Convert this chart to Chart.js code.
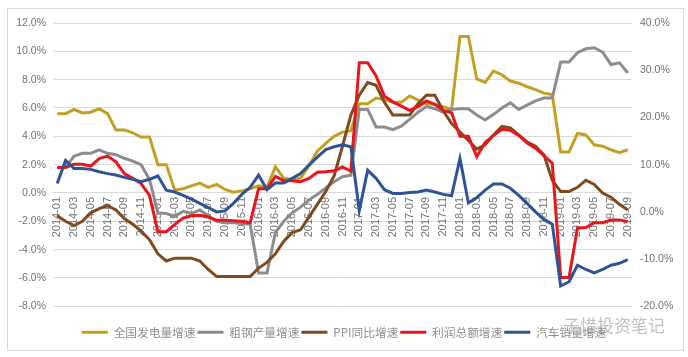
<!DOCTYPE html>
<html><head><meta charset="utf-8">
<script src="https://cdn.jsdelivr.net/npm/chart.js@4/dist/chart.umd.min.js"></script>
<style>
html,body{margin:0;padding:0;background:#fff;}
#wrap{position:relative;width:688px;height:357px;overflow:hidden;}
#frame{position:absolute;left:7px;top:8px;width:677px;height:343px;border:1px solid #d9d9d9;box-sizing:border-box;pointer-events:none;}
#wm{position:absolute;left:563px;top:315px;font-family:"Noto Sans CJK SC";font-size:17px;line-height:20px;color:rgba(130,130,130,0.5);white-space:nowrap;pointer-events:none;}
canvas{position:absolute;left:0;top:0;}
</style></head>
<body>
<div id="wrap">
<canvas id="c" width="688" height="357"></canvas>
<div id="frame"></div>
<div id="wm">子惜投资笔记</div>
</div>
<script>
const months = [
"2014-01","2014-02","2014-03","2014-04","2014-05","2014-06","2014-07","2014-08","2014-09","2014-10","2014-11","2014-12",
"2015-01","2015-02","2015-03","2015-04","2015-05","2015-06","2015-07","2015-08","2015-09","2015-10","2015-11","2015-12",
"2016-01","2016-02","2016-03","2016-04","2016-05","2016-06","2016-07","2016-08","2016-09","2016-10","2016-11","2016-12",
"2017-01","2017-02","2017-03","2017-04","2017-05","2017-06","2017-07","2017-08","2017-09","2017-10","2017-11","2017-12",
"2018-01","2018-02","2018-03","2018-04","2018-05","2018-06","2018-07","2018-08","2018-09","2018-10","2018-11","2018-12",
"2019-01","2019-02","2019-03","2019-04","2019-05","2019-06","2019-07","2019-08","2019-09"];

// 全国发电量增速 (left axis, %)
const powerGrowth = [5.6,5.6,5.9,5.65,5.7,5.95,5.6,4.45,4.45,4.25,3.95,3.95,
 2.0,2.0,0.2,0.3,0.5,0.7,0.4,0.6,0.25,0.05,0.15,0.3,
 0.5,0.4,1.85,1.05,0.95,1.05,1.9,2.95,3.5,4.0,4.3,4.4,
 6.3,6.3,6.7,6.6,6.4,6.4,6.85,6.55,6.3,6.25,6.1,5.9,
 11.05,11.05,8.05,7.8,8.6,8.35,7.9,7.75,7.5,7.3,7.05,6.95,
 2.9,2.9,4.2,4.1,3.4,3.3,3.05,2.85,3.05];
// 粗钢产量增速 (left axis, %)
const steelGrowth = [1.8,1.8,2.6,2.8,2.8,3.05,2.8,2.7,2.45,2.25,2.0,0.95,
 -1.4,-1.45,-1.65,-1.3,-1.45,-1.2,-1.6,-2.0,-2.1,-2.1,-2.15,-2.2,
 -5.65,-5.65,-2.8,-2.0,-1.4,-1.0,-0.5,-0.1,0.35,0.8,1.15,1.25,
 5.9,5.9,4.66,4.66,4.47,4.72,5.2,5.7,6.1,5.95,5.7,5.9,
 5.94,5.94,5.5,5.15,5.55,6.0,6.36,5.9,6.2,6.5,6.7,6.7,
 9.24,9.24,9.9,10.18,10.25,9.94,9.07,9.19,8.48];
// PPI同比增速 (left axis, %)
const ppiGrowth = [-1.6,-2.0,-2.3,-2.0,-1.4,-1.1,-0.9,-1.2,-1.8,-2.2,-2.7,-3.3,
 -4.3,-4.8,-4.6,-4.6,-4.6,-4.8,-5.4,-5.9,-5.9,-5.9,-5.9,-5.9,
 -5.3,-4.9,-4.3,-3.4,-2.8,-2.6,-1.7,-0.8,0.1,1.2,3.3,5.5,
 6.9,7.8,7.6,6.4,5.5,5.5,5.5,6.3,6.9,6.9,5.8,4.9,
 4.3,3.7,3.1,3.4,4.1,4.7,4.6,4.1,3.6,3.3,2.7,0.9,
 0.1,0.1,0.4,0.9,0.6,0.0,-0.3,-0.8,-1.2];
// 利润总额增速 (right axis, %)
const profitGrowth = [9.4,9.4,10.1,10.1,9.7,11.3,11.8,10.6,8.1,7.1,6.0,3.5,
 -4.2,-4.2,-2.7,-1.3,-0.8,-0.7,-1.1,-1.8,-1.8,-1.9,-2.0,-2.3,
 4.9,4.9,7.5,6.6,6.6,6.4,7.1,8.4,8.5,8.7,9.5,8.6,
 31.6,31.6,28.8,24.5,23.3,22.4,21.5,22.3,23.5,22.8,21.5,21.0,
 16.0,16.0,11.7,14.7,16.2,17.5,17.3,16.2,14.6,13.5,11.9,10.3,
 -13.9,-13.9,-3.4,-3.3,-2.3,-2.3,-1.7,-1.7,-2.1];
// 汽车销量增速 (right axis, %)
const autoGrowth = [6.0,10.9,9.2,9.2,9.0,8.5,8.1,7.8,7.3,6.9,6.4,6.9,
 7.6,4.6,4.2,3.5,2.7,1.8,0.9,0.0,0.2,1.8,3.7,5.2,
 7.8,4.7,6.1,6.1,7.1,8.1,9.9,11.6,13.2,13.8,14.2,13.8,
 0.3,8.8,7.1,4.7,3.9,3.9,4.1,4.2,4.6,4.2,3.7,3.4,
 11.3,1.9,3.0,4.6,5.9,5.9,5.0,3.5,1.8,0.0,-1.6,-2.6,
 -15.7,-14.8,-11.3,-12.2,-12.9,-12.2,-11.3,-10.9,-10.1];

const seriesNames = ["全国发电量增速","粗钢产量增速","PPI同比增速","利润总额增速","汽车销量增速"];
const seriesColors = ["#C3A024","#8C8C8C","#7E4A1E","#E8161C","#2F5496"];

function ds(i, data, axis){
  return {label: seriesNames[i], data, yAxisID: axis, borderColor: seriesColors[i], backgroundColor: seriesColors[i],
    borderWidth: 3, pointRadius: 0, tension: 0, fill: false, order: 5 - i};
}

const tickFont = {family: '"Liberation Sans", Arial, sans-serif', size: 10.5};

new Chart(document.getElementById('c'), {
  type: 'line',
  data: {
    labels: months,
    datasets: [
      ds(0, powerGrowth, 'y'),
      ds(1, steelGrowth, 'y'),
      ds(2, ppiGrowth, 'y'),
      ds(3, profitGrowth, 'y1'),
      ds(4, autoGrowth, 'y1')
    ]
  },
  options: {
    responsive: false,
    animation: false,
    devicePixelRatio: 1,
    layout: {padding: {top: 23, bottom: 9, left: 0, right: 0}},
    plugins: {
      tooltip: {enabled: false},
      legend: {
        position: 'bottom',
        reverse: true,
        title: {display: true, text: '', font: {size: 1, lineHeight: 1}, padding: {top: 17, bottom: 0}},
        labels: {
          usePointStyle: true, pointStyle: 'line', pointStyleWidth: 26, boxHeight: 11.7,
          padding: 2, color: '#8f8f8f',
          font: {family: '"Noto Sans CJK SC", sans-serif', size: 11.7}
        }
      }
    },
    scales: {
      x: {
        type: 'category',
        position: {y: 0},
        offset: true,
        grid: {display: false, drawTicks: false},
        border: {display: false},
        ticks: {
          autoSkip: false, minRotation: 90, maxRotation: 90, padding: 4,
          color: '#737373', font: {family: '"Liberation Sans", Arial, sans-serif', size: 11},
          callback: (v, i) => (i % 2 === 0 ? months[i] : null)
        },
        afterFit: (s) => { s.height = 0; }
      },
      y: {
        position: 'left', min: -8, max: 12,
        ticks: {stepSize: 2, padding: 7, color: '#737373', font: tickFont, callback: v => v.toFixed(1) + '%'},
        grid: {color: '#d9d9d9', lineWidth: 1, drawTicks: false},
        border: {display: false},
        afterFit: (s) => { s.width = 53; }
      },
      y1: {
        position: 'right', min: -20, max: 40,
        ticks: {stepSize: 10, padding: 8, color: '#737373', font: tickFont, callback: v => v.toFixed(1) + '%'},
        grid: {display: false, drawTicks: false},
        border: {display: false},
        afterFit: (s) => { s.width = 56; }
      }
    }
  }
});
</script>
</body></html>
